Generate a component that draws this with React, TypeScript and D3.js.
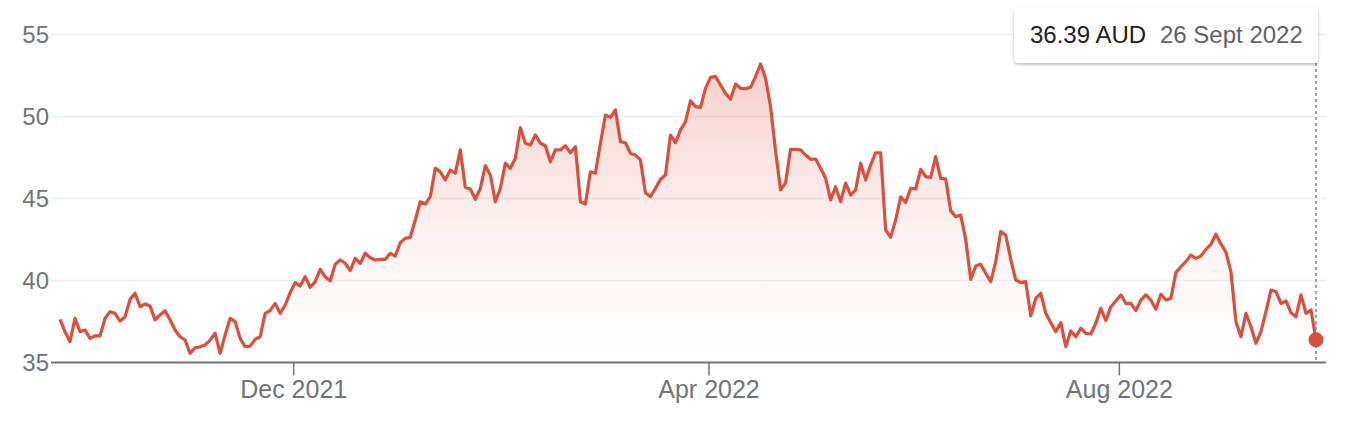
import React from "react";
import * as d3 from "d3";

// Daily closing prices (AUD), ASX trading days 27 Sept 2021 – 26 Sept 2022
const prices: number[] = [
  37.63, 36.88, 36.27, 37.69, 36.88, 36.98, 36.47, 36.62, 36.62, 37.69,
  38.10, 38.00, 37.53, 37.79, 38.85, 39.22, 38.40, 38.57, 38.44, 37.60,
  37.90, 38.16, 37.60, 36.98, 36.57, 36.37, 35.56, 35.90, 35.96, 36.07,
  36.37, 36.78, 35.56, 36.68, 37.69, 37.49, 36.47, 35.96, 36.00, 36.41,
  36.57, 38.00, 38.16, 38.60, 38.00, 38.50, 39.26, 39.87, 39.66, 40.23,
  39.59, 39.93, 40.68, 40.23, 39.97, 40.99, 41.25, 41.05, 40.60, 41.35,
  41.05, 41.66, 41.39, 41.25, 41.29, 41.29, 41.66, 41.49, 42.30, 42.57,
  42.63, 43.69, 44.80, 44.66, 45.11, 46.84, 46.63, 46.13, 46.74, 46.54,
  47.96, 45.68, 45.58, 44.95, 45.62, 47.00, 46.43, 44.80, 45.62, 47.15,
  46.84, 47.45, 49.32, 48.37, 48.26, 48.87, 48.37, 48.22, 47.24, 47.96,
  47.96, 48.22, 47.79, 48.16, 44.80, 44.66, 46.63, 46.54, 48.37, 50.09,
  49.95, 50.40, 48.46, 48.40, 47.75, 47.65, 47.35, 45.35, 45.11, 45.62,
  46.17, 46.43, 48.87, 48.40, 49.18, 49.68, 50.96, 50.60, 50.56, 51.72,
  52.39, 52.43, 51.92, 51.41, 51.05, 51.98, 51.72, 51.70, 51.78, 52.43,
  53.20, 52.33, 50.60, 47.90, 45.52, 45.96, 48.00, 48.00, 47.96, 47.65,
  47.39, 47.41, 46.84, 46.23, 44.91, 45.72, 44.80, 45.93, 45.21, 45.52,
  47.15, 46.13, 47.04, 47.79, 47.79, 43.08, 42.63, 43.69, 45.10, 44.76,
  45.62, 45.58, 46.78, 46.33, 46.29, 47.55, 46.23, 46.19, 44.26, 43.89,
  43.99, 42.51, 40.07, 40.88, 40.99, 40.44, 39.93, 41.15, 42.98, 42.77,
  41.29, 40.03, 39.87, 39.93, 37.84, 38.91, 39.22, 38.00, 37.43, 36.88,
  37.43, 35.96, 36.92, 36.57, 37.09, 36.78, 36.74, 37.39, 38.30, 37.55,
  38.40, 38.75, 39.12, 38.60, 38.60, 38.16, 38.81, 39.12, 38.81, 38.24,
  39.16, 38.81, 38.91, 40.48, 40.84, 41.15, 41.55, 41.35, 41.49, 41.90,
  42.20, 42.82, 42.23, 41.72, 40.54, 37.49, 36.57, 38.00, 37.18, 36.17,
  36.88, 38.10, 39.42, 39.32, 38.60, 38.75, 38.04, 37.79, 39.12, 38.00,
  38.20, 36.39,
];

const startDate = "2021-09-27";
const asxHolidays = [
  "2021-12-27", "2021-12-28", "2022-01-03", "2022-01-26", "2022-04-15",
  "2022-04-18", "2022-04-25", "2022-06-13", "2022-09-22",
];

const yTicks = [35, 40, 45, 50, 55];
const xTickMonths = ["2021-12-01", "2022-04-01", "2022-08-01"];
const xTickLabels = ["Dec 2021", "Apr 2022", "Aug 2022"];

const tooltipPrice = "36.39 AUD";
const tooltipDate = "26 Sept 2022";

function tradingDays(n: number): Date[] {
  const out: Date[] = [];
  const d = new Date(startDate + "T00:00:00Z");
  const hol = new Set(asxHolidays);
  while (out.length < n) {
    const dow = d.getUTCDay();
    const iso = d.toISOString().slice(0, 10);
    if (dow !== 0 && dow !== 6 && !hol.has(iso)) out.push(new Date(d));
    d.setUTCDate(d.getUTCDate() + 1);
  }
  return out;
}

const W = 1348;
const H = 436;
const FONT = "'Liberation Sans', Arial, Helvetica, sans-serif";
const RED = "#d9503f";

export default function App() {
  const dates = tradingDays(prices.length);
  const x = d3.scaleLinear().domain([0, prices.length - 1]).range([60, 1316]);
  const y = d3.scaleLinear().domain([35, 55]).range([362.5, 34.5]);
  const gridX0 = 51;
  const gridX1 = 1326;

  const line = d3
    .line<number>()
    .x((_, i) => x(i))
    .y((v) => y(v));
  const area = d3
    .area<number>()
    .x((_, i) => x(i))
    .y0(y(35))
    .y1((v) => y(v));

  const tickIdx = xTickMonths.map((m) => {
    const t = new Date(m + "T00:00:00Z").getTime();
    return dates.findIndex((d) => d.getTime() >= t);
  });

  const last = prices.length - 1;
  const lx = x(last);
  const ly = y(prices[last]);
  const maxV = d3.max(prices) as number;

  return (
    <svg
      width={W}
      height={H}
      style={{ position: "absolute", left: 0, top: 0, background: "#fff" }}
      fontFamily={FONT}
    >
      <defs>
        <linearGradient id="fillGrad" gradientUnits="userSpaceOnUse" x1={0} x2={0} y1={y(maxV)} y2={y(35)}>
          <stop offset="0%" stopColor={RED} stopOpacity={0.27} />
          <stop offset="55%" stopColor={RED} stopOpacity={0.07} />
          <stop offset="100%" stopColor={RED} stopOpacity={0.0} />
        </linearGradient>
        <filter id="shadow" x="-10%" y="-30%" width="120%" height="170%">
          <feDropShadow dx="0" dy="1.5" stdDeviation="1.5" floodColor="#000" floodOpacity="0.28" />
        </filter>
      </defs>

      {yTicks.filter((t) => t !== 35).map((t) => (
        <line key={t} x1={gridX0} x2={gridX1} y1={y(t)} y2={y(t)} stroke="#efefef" strokeWidth={1.5} />
      ))}

      {yTicks.map((t) => (
        <text key={t} x={49} y={y(t)} dy="0.36em" textAnchor="end" fontSize={24} fill="#70757a">
          {t}
        </text>
      ))}

      <path d={area(prices) || ""} fill="url(#fillGrad)" />
      <path d={line(prices) || ""} fill="none" stroke={RED} strokeWidth={3.2} strokeLinejoin="round" />

      <line x1={gridX0} x2={gridX1} y1={y(35)} y2={y(35)} stroke="#70757a" strokeWidth={2} />

      {tickIdx.map((idx, k) => (
        <g key={k} transform={`translate(${x(idx) - 1.5},0)`}>
          <line x1={0} x2={0} y1={y(35)} y2={y(35) + 13} stroke="#70757a" strokeWidth={1.5} />
          <text x={0} y={398} textAnchor="middle" fontSize={25} fill="#70757a">
            {xTickLabels[k]}
          </text>
        </g>
      ))}

      <line x1={lx} x2={lx} y1={63} y2={y(35)} stroke="#888" strokeWidth={1.5} strokeDasharray="3,3" />
      <circle cx={lx} cy={ly} r={7.5} fill={RED} />

      <rect x={1014} y={7} width={304} height={56} rx={4} fill="#fff" filter="url(#shadow)" />
      <text x={1030} y={43} fontSize={24} fill="#202124">
        {tooltipPrice}
      </text>
      <text x={1160} y={43} fontSize={24} fill="#5f6368">
        {tooltipDate}
      </text>
    </svg>
  );
}
